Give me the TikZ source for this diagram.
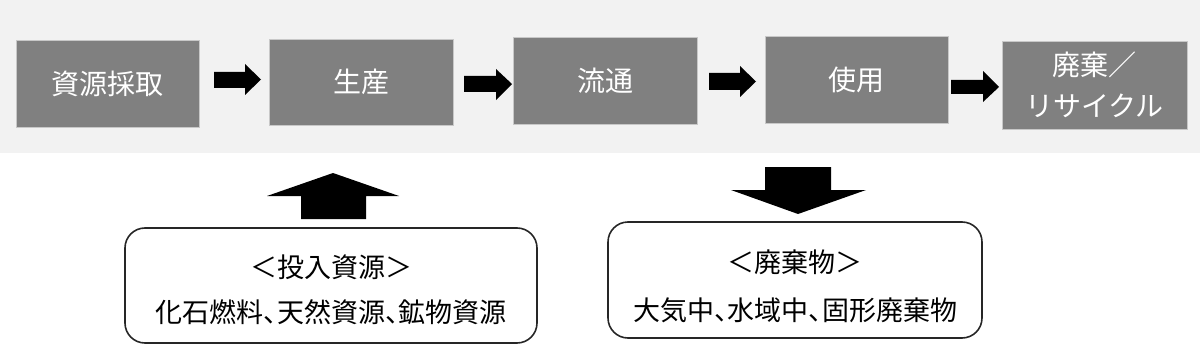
\documentclass[tikz,border=0pt]{standalone}
\usepackage{fontspec}
\setmainfont{Noto Sans CJK JP}
\definecolor{band}{HTML}{F2F2F2}
\definecolor{procfill}{HTML}{808080}
\definecolor{procline}{HTML}{C8C8C8}
\newcommand{\hcomma}{\makebox[0.5em][l]{、}}
\begin{document}
\begin{tikzpicture}[x=1pt,y=-1pt,
  proc/.style={rectangle, fill=procfill, draw=procline, line width=0.8pt, text=white,
    font=\fontsize{28}{41}\selectfont, align=center, inner sep=0pt},
  infobox/.style={rectangle, rounded corners=20pt, draw=black!85, line width=1.6pt, fill=white},
  infotext/.style={font=\fontsize{27}{30}\selectfont, text=black, inner sep=0pt},
  blockarrow/.style={fill=black}]
\useasboundingbox (0,0) rectangle (1200,345);
\fill[band] (0,0) rectangle (1200,153);
% process boxes
\node[proc, minimum width=183pt, minimum height=87pt] (b1) at (107.5,83.5) {資源採取};
\node[proc, minimum width=184pt, minimum height=86pt] (b2) at (361,82) {生産};
\node[proc, minimum width=184pt, minimum height=87pt] (b3) at (605,80.5) {流通};
\node[proc, minimum width=183pt, minimum height=87pt] (b4) at (856.5,79.5) {使用};
\node[proc, minimum width=185pt, minimum height=88pt] (b5) at (1094.5,85) {廃棄／\\リサイクル};
% right arrows
\fill[blockarrow] (214,72) -- (245,72) -- (245,64) -- (261,79.5) -- (245,95) -- (245,88) -- (214,88) -- cycle;
\fill[blockarrow] (464,76) -- (496,76) -- (496,69) -- (512,84) -- (496,100) -- (496,92) -- (464,92) -- cycle;
\fill[blockarrow] (709,73) -- (740,73) -- (740,66) -- (756,81.5) -- (740,97) -- (740,90) -- (709,90) -- cycle;
\fill[blockarrow] (951,80) -- (983,80) -- (983,71) -- (999,87) -- (983,102) -- (983,94) -- (951,94) -- cycle;
% up arrow
\fill[blockarrow] (301,219) -- (301,196) -- (267,196) -- (333,173) -- (399,196) -- (366,196) -- (366,219) -- cycle;
% down arrow
\fill[blockarrow] (765,167) -- (831,167) -- (831,190) -- (866,190) -- (798,214) -- (731,190) -- (765,190) -- cycle;
% info boxes
\draw[infobox] (125,228) rectangle (537,343);
\draw[infobox] (608,222) rectangle (982,338);
\node[infotext] (in1) at (331,267) {＜投入資源＞};
\node[infotext] (in2) at (331,312) {化石燃料\hcomma 天然資源\hcomma 鉱物資源};
\node[infotext] (out1) at (795,262) {＜廃棄物＞};
\node[infotext] (out2) at (795,310) {大気中\hcomma 水域中\hcomma 固形廃棄物};
\end{tikzpicture}
\end{document}
